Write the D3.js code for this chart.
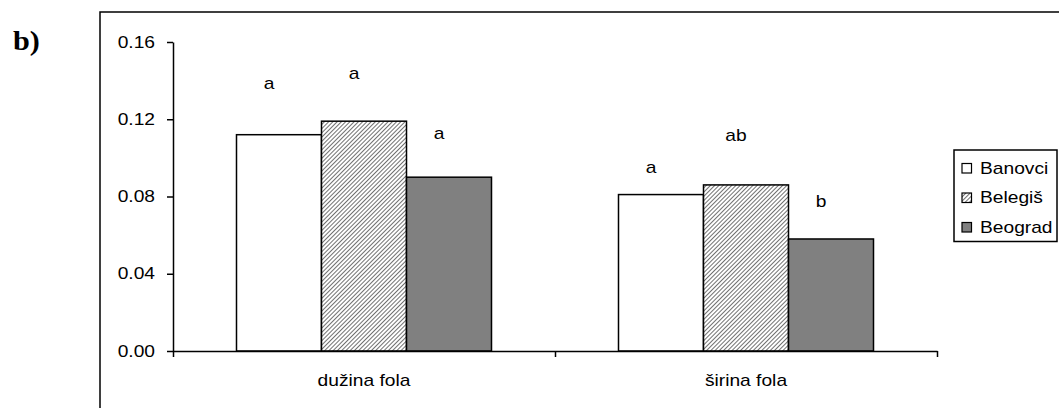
<!DOCTYPE html>
<html>
<head>
<meta charset="utf-8">
<script src="https://cdn.jsdelivr.net/npm/d3@7"></script>
<style>
  html, body { margin: 0; padding: 0; background: #fff; }
  svg { display: block; }
  text { font-family: "Liberation Sans", Arial, sans-serif; fill: #000; }
</style>
</head>
<body>
<svg id="chart" width="1059" height="408"></svg>
<script>
// ---- data ----
const categories = ["dužina fola", "širina fola"];
const seriesNames = ["Banovci", "Belegiš", "Beograd"];
const banovci = [0.112, 0.081];
const belegis = [0.119, 0.086];
const beograd = [0.090, 0.058];
const lettersBanovci = ["a", "a"];
const lettersBelegis = ["a", "ab"];
const lettersBeograd = ["a", "b"];
const letterYBanovci = [0.1355, 0.0923];
const letterYBelegis = [0.1407, 0.1087];
const letterYBeograd = [0.1096, 0.0747];
const yTicks = [0.00, 0.04, 0.08, 0.12, 0.16];
const panelLabel = "b)";

const seriesValues = [banovci, belegis, beograd];
const seriesLetters = [lettersBanovci, lettersBelegis, lettersBeograd];
const seriesLetterY = [letterYBanovci, letterYBelegis, letterYBeograd];

// ---- layout ----
const svg = d3.select("#chart");
const SX = 1.2; // horizontal text stretch
const plot = { left: 173, right: 937, top: 42, bottom: 351 };

const defs = svg.append("defs");
const pat = defs.append("pattern")
  .attr("id", "hatch").attr("patternUnits", "userSpaceOnUse")
  .attr("width", 3).attr("height", 3)
  .attr("patternTransform", "rotate(45)");
pat.append("rect").attr("width", 3).attr("height", 3).attr("fill", "#fff");
pat.append("line").attr("x1", 0).attr("y1", 0).attr("x2", 0).attr("y2", 3)
  .attr("stroke", "#333").attr("stroke-width", 1.4);

const fills = ["#ffffff", "url(#hatch)", "#808080"];

// outer frame (cropped at right/bottom)
svg.append("rect").attr("x", 100).attr("y", 12).attr("width", 1000).attr("height", 450)
  .attr("fill", "none").attr("stroke", "#000").attr("stroke-width", 1.5);

// panel label
svg.append("text").text(panelLabel)
  .attr("transform", "translate(13,50) scale(1.08,1)")
  .style("font-family", "'Liberation Serif', 'Times New Roman', serif")
  .style("font-weight", "bold").style("font-size", "28px");

const y = d3.scaleLinear().domain([0, 0.16]).range([plot.bottom, plot.top]);
const x0 = d3.scaleBand().domain(categories).range([plot.left, plot.right]).padding(0);
const x1 = d3.scaleBand().domain(seriesNames).range([0, x0.bandwidth()])
  .paddingInner(0).paddingOuter(0.747);

// bars
const rows = [];
categories.forEach((c, ci) => {
  seriesNames.forEach((s, si) => {
    rows.push({ cat: c, ser: s, si, v: seriesValues[si][ci],
      letter: seriesLetters[si][ci], ly: seriesLetterY[si][ci] });
  });
});

svg.append("g").selectAll("rect").data(rows).join("rect")
  .attr("x", d => x0(d.cat) + x1(d.ser))
  .attr("y", d => y(d.v))
  .attr("width", x1.bandwidth())
  .attr("height", d => y(0) - y(d.v))
  .attr("fill", d => fills[d.si])
  .attr("stroke", "#000").attr("stroke-width", 1.5);

// significance letters
svg.append("g").selectAll("text").data(rows).join("text")
  .attr("text-anchor", "middle")
  .attr("transform", d => `translate(${x0(d.cat) + x1(d.ser) + x1.bandwidth() / 2 - 10},${y(d.ly)}) scale(${SX},1)`)
  .style("font-size", "16px")
  .text(d => d.letter);

// y axis
const yAxis = svg.append("g").attr("transform", `translate(${plot.left},0)`)
  .call(d3.axisLeft(y).tickValues(yTicks).tickFormat(d3.format(".2f")).tickSize(6).tickSizeOuter(0));
yAxis.select(".domain").attr("stroke", "#000").attr("stroke-width", 1.5);
yAxis.selectAll(".tick line").attr("stroke", "#000").attr("stroke-width", 1.5);
yAxis.selectAll(".tick text")
  .attr("x", null)
  .attr("transform", `translate(-18,0) scale(${SX},1)`)
  .style("font-size", "16px").style("font-family", "'Liberation Sans', Arial, sans-serif")
  .attr("fill", "#000");

// x axis
const xEdges = d3.scaleLinear().domain([0, categories.length]).range([plot.left, plot.right]);
const xAxis = svg.append("g").attr("transform", `translate(0,${plot.bottom})`)
  .call(d3.axisBottom(xEdges).tickValues(d3.range(categories.length + 1)).tickFormat("").tickSize(6).tickSizeOuter(0));
xAxis.select(".domain").attr("stroke", "#000").attr("stroke-width", 1.5);
xAxis.selectAll(".tick line").attr("stroke", "#000").attr("stroke-width", 1.5);

svg.append("g").selectAll("text").data(categories).join("text")
  .attr("text-anchor", "middle")
  .attr("transform", d => `translate(${x0(d) + x0.bandwidth() / 2},${plot.bottom + 35}) scale(${SX},1)`)
  .style("font-size", "16px")
  .text(d => d);

// legend
const lg = svg.append("g");
lg.append("rect").attr("x", 954).attr("y", 150).attr("width", 103).attr("height", 91.5)
  .attr("fill", "#fff").attr("stroke", "#000").attr("stroke-width", 1.5);
const ly = d3.scalePoint().domain(seriesNames).range([168, 227]);
seriesNames.forEach((s, i) => {
  lg.append("rect").attr("x", 962).attr("y", ly(s) - 4.5).attr("width", 9.5).attr("height", 9.5)
    .attr("fill", fills[i]).attr("stroke", "#000").attr("stroke-width", 1.2);
  lg.append("text").attr("transform", `translate(980,${ly(s) + 5.5}) scale(${SX},1)`)
    .style("font-size", "16px").text(s);
});
</script>
</body>
</html>
